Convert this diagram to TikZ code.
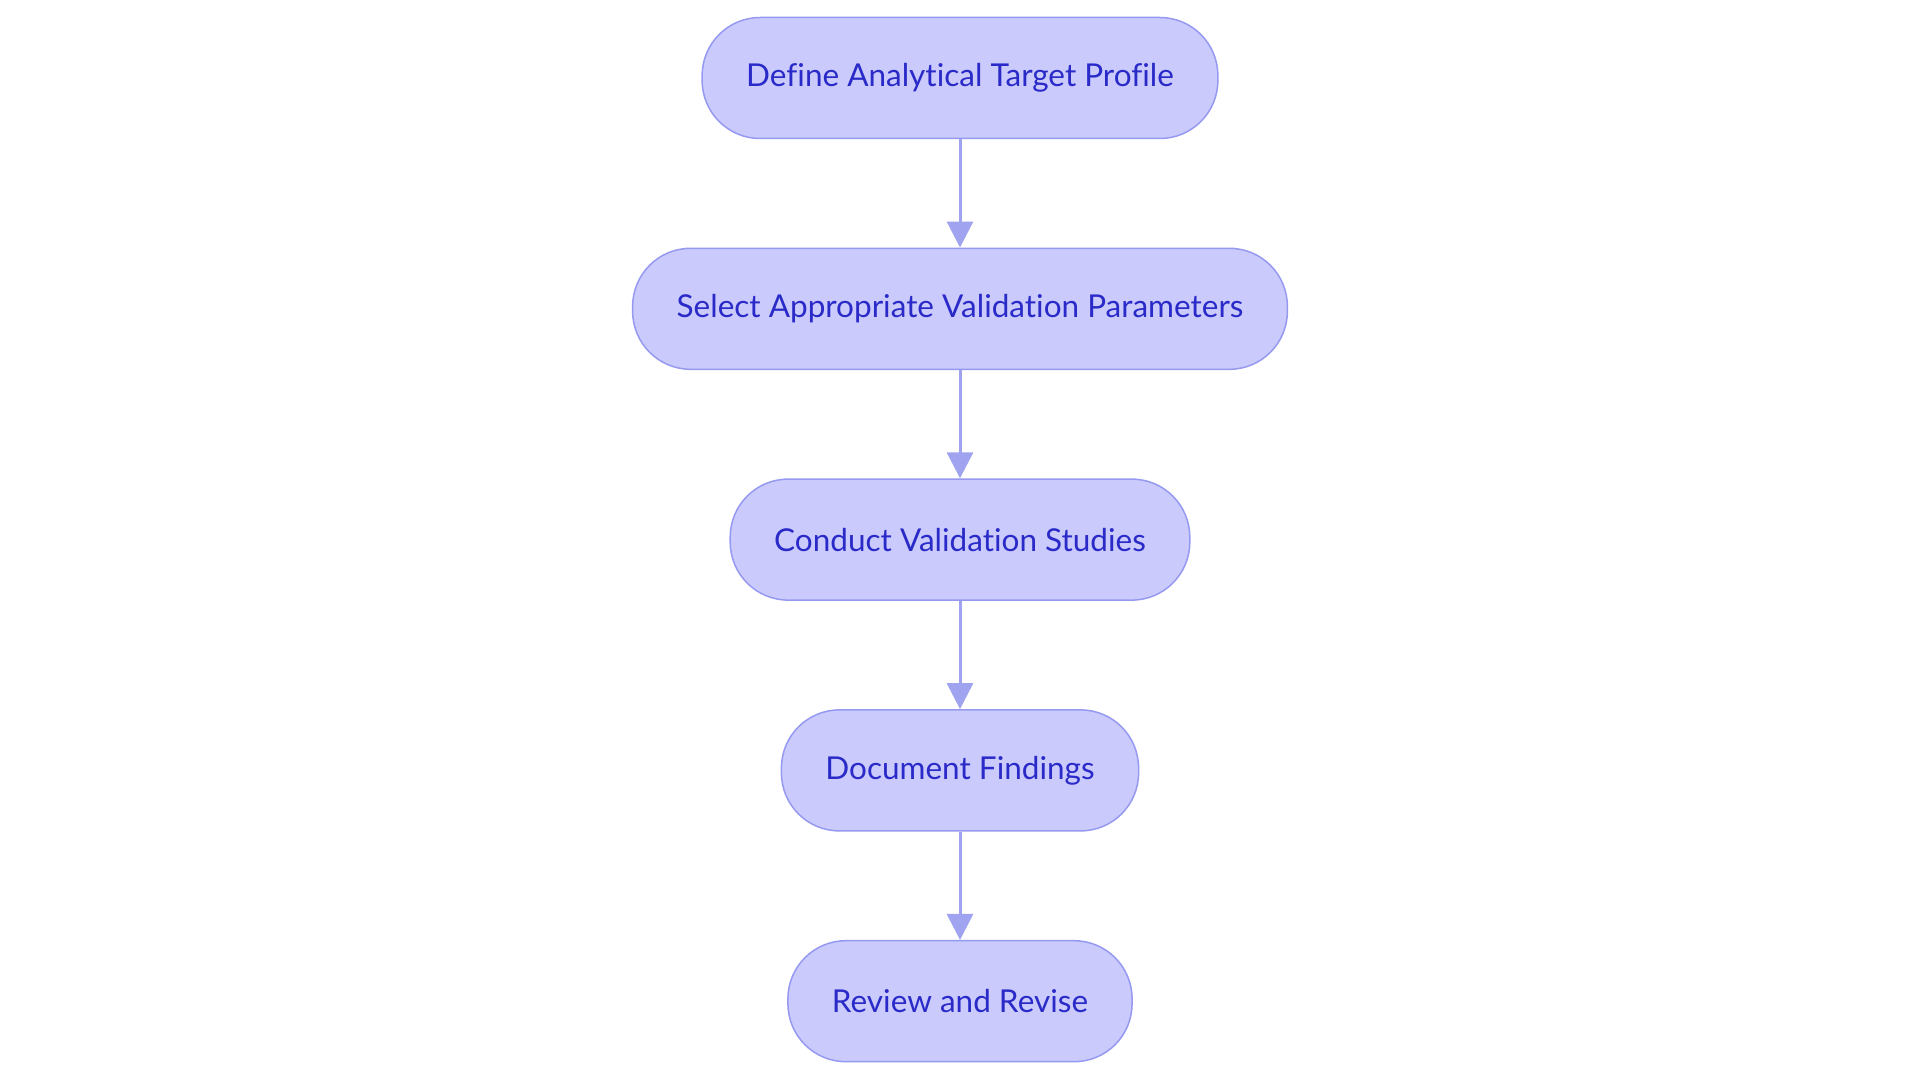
\documentclass[tikz,border=0pt]{standalone}
\usepackage{fontspec}
\setmainfont{Lato}[Ligatures={NoCommon,NoRare}]
\usepackage{tikz}
\usetikzlibrary{arrows.meta}
\definecolor{stepfill}{RGB}{202,203,252}
\definecolor{stepline}{RGB}{150,153,240}
\definecolor{steptext}{RGB}{42,42,200}
\definecolor{arrowline}{RGB}{160,163,240}
\tikzset{
  stepbox/.style={draw=stepline, fill=stepfill, line width=1.5pt, rectangle,
    rounded corners=58pt, minimum height=121pt, inner xsep=44pt,
    text=steptext, font=\fontsize{31.5}{36}\selectfont},
  flow/.style={->, draw=arrowline, line width=3pt}
}
\begin{document}
\begin{tikzpicture}[x=1pt,y=-1pt]
    \begin{scope}[>={Triangle[width=26pt,length=26pt]}] %filled arrow tips
      \useasboundingbox (0,0) rectangle (1920,1083);

      % defines
      \pgfmathsetmacro\MidXCoord{960} % middle column
      \pgfmathsetmacro\TopYCoord{78} % first row
      \pgfmathsetmacro\RowStep{230.8} % row distance

      % draw the five steps
      \node (ATP) at (\MidXCoord, \TopYCoord) [stepbox] {Define Analytical Target Profile};
      \node (VP) at (\MidXCoord, {\TopYCoord + \RowStep}) [stepbox] {Select Appropriate Validation Parameters};
      \node (VS) at (\MidXCoord, {\TopYCoord + 2*\RowStep}) [stepbox] {Conduct Validation Studies};
      \node (DF) at (\MidXCoord, {\TopYCoord + 3*\RowStep}) [stepbox] {Document Findings};
      \node (RR) at (\MidXCoord, {\TopYCoord + 4*\RowStep}) [stepbox] {Review and Revise};

      % connection lines
      \draw[flow] (ATP) -- (VP);
      \draw[flow] (VP) -- (VS);
      \draw[flow] (VS) -- (DF);
      \draw[flow] (DF) -- (RR);

    \end{scope}
  \end{tikzpicture}
\end{document}
